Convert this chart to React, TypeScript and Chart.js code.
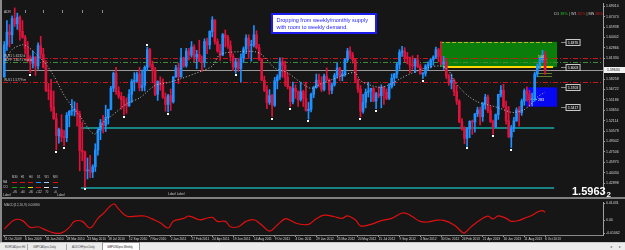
import React, { useEffect, useRef } from "react";
import { Chart, registerables } from "chart.js";

Chart.register(...registerables);

// ---------------- DATA ----------------
// GBPUSD weekly candles, week index 0 = 11 Oct 2009
const opens = [
  1.5860,1.6330,1.6520,1.6480,1.6720,1.6640,1.6740,1.6530,1.6440,1.6280,
  1.6140,1.6060,1.6150,1.6020,1.6320,1.6190,1.6000,1.5660,1.5650,1.5410,
  1.5240,1.4990,1.5080,1.4970,1.4960,1.5290,1.5350,1.5360,1.5370,1.5310,
  1.4770,1.4750,1.4470,1.4480,1.4450,1.4530,1.4780,1.5070,1.5180,1.5140,
  1.5260,1.5380,1.5690,1.5910,1.5640,1.5570,1.5520,1.5450,1.5430,1.5600,
  1.5790,1.5800,1.5900,1.5700,1.5730,1.6000,1.6260,1.6040,1.5960,1.5600,
  1.5790,1.5740,1.5560,1.5450,1.5580,1.5490,1.5860,1.5990,1.5860,1.6140,
  1.6020,1.6240,1.6180,1.6300,1.6150,1.6190,1.6090,1.6070,1.6380,1.6330,
  1.6530,1.6700,1.6380,1.6240,1.6180,1.6480,1.6440,1.6320,1.6160,1.6000,
  1.6080,1.5980,1.6140,1.6270,1.6430,1.6320,1.6330,1.6480,1.6290,1.6120,
  1.5810,1.5660,1.5480,1.5580,1.5440,1.5800,1.5860,1.6080,1.6030,1.5850,
  1.5710,1.5490,1.5690,1.5640,1.5520,1.5640,1.5540,1.5360,1.5380,1.5600,
  1.5700,1.5810,1.5760,1.5670,1.5870,1.5810,1.5660,1.5740,1.5880,1.5990,
  1.5870,1.5900,1.6110,1.6240,1.6180,1.6110,1.5810,1.5680,1.5350,1.5480,
  1.5630,1.5650,1.5690,1.5500,1.5610,1.5580,1.5700,1.5630,1.5540,1.5710,
  1.5840,1.5900,1.6040,1.6220,1.6240,1.6150,1.6140,1.6030,1.6020,1.6110,
  1.6010,1.5900,1.5910,1.6020,1.6030,1.6110,1.6150,1.6260,1.6160,1.6050,
  1.6080,1.5870,1.5770,1.5810,1.5640,1.5500,1.5200,1.5090,1.4950,1.5090,
  1.5200,1.5190,1.5310,1.5370,1.5270,1.5460,1.5560,1.5360,1.5200,1.5120,
  1.5300,1.5600,1.5660,1.5420,1.5210,1.4970,1.5100,1.5210,1.5370,1.5330,
  1.5500,1.5650,1.5600,1.5520,1.5540,1.5900,1.6020,1.6130,1.6180,
];
const highs = [
  1.6380,1.6690,1.6630,1.6760,1.6877,1.6800,1.6760,1.6690,1.6470,1.6380,
  1.6170,1.6240,1.6160,1.6360,1.6457,1.6280,1.6100,1.5760,1.5820,1.5650,
  1.5320,1.5100,1.5300,1.5070,1.5330,1.5360,1.5523,1.5490,1.5470,1.5350,
  1.5190,1.4760,1.4660,1.4700,1.4560,1.4870,1.5100,1.5230,1.5290,1.5440,
  1.5380,1.5720,1.5930,1.5998,1.5710,1.5630,1.5570,1.5550,1.5670,1.5820,
  1.5920,1.5930,1.6000,1.5960,1.6020,1.6298,1.6280,1.6090,1.6000,1.5800,
  1.5860,1.5830,1.5620,1.5600,1.5680,1.5860,1.6030,1.6060,1.6280,1.6150,
  1.6280,1.6280,1.6380,1.6330,1.6250,1.6400,1.6170,1.6420,1.6430,1.6540,
  1.6747,1.6700,1.6420,1.6340,1.6500,1.6550,1.6470,1.6390,1.6200,1.6130,
  1.6130,1.6200,1.6300,1.6480,1.6480,1.6400,1.6617,1.6540,1.6340,1.6130,
  1.5870,1.5730,1.5670,1.5600,1.5850,1.5890,1.6140,1.6140,1.6090,1.5910,
  1.5720,1.5780,1.5740,1.5650,1.5780,1.5660,1.5780,1.5480,1.5620,1.5720,
  1.5900,1.5900,1.5860,1.5900,1.5990,1.5830,1.5770,1.5910,1.6060,1.6000,
  1.5940,1.6130,1.6280,1.6301,1.6220,1.6130,1.5830,1.5730,1.5600,1.5680,
  1.5780,1.5690,1.5700,1.5630,1.5710,1.5740,1.5720,1.5680,1.5760,1.5900,
  1.5910,1.6070,1.6260,1.6309,1.6290,1.6220,1.6150,1.6170,1.6130,1.6180,
  1.6050,1.5920,1.6040,1.6080,1.6130,1.6170,1.6300,1.6280,1.6381,1.6160,
  1.6130,1.5900,1.5900,1.5830,1.5730,1.5520,1.5240,1.5120,1.5110,1.5210,
  1.5220,1.5320,1.5410,1.5410,1.5480,1.5600,1.5590,1.5420,1.5220,1.5310,
  1.5600,1.5730,1.5750,1.5500,1.5420,1.5140,1.5260,1.5400,1.5420,1.5530,
  1.5680,1.5710,1.5660,1.5620,1.5930,1.6050,1.6140,1.6250,1.6230,
];
const lows = [
  1.5850,1.6250,1.6300,1.6350,1.6600,1.6560,1.6400,1.6430,1.6200,1.6080,
  1.5920,1.5990,1.5880,1.5970,1.6140,1.5990,1.5640,1.5520,1.5350,1.5230,
  1.4781,1.4880,1.4900,1.4840,1.4900,1.5120,1.5290,1.5280,1.5130,1.4470,
  1.4620,1.4229,1.4350,1.4370,1.4370,1.4460,1.4700,1.4930,1.5030,1.5050,
  1.5160,1.5370,1.5640,1.5600,1.5540,1.5380,1.5295,1.5320,1.5420,1.5480,
  1.5650,1.5780,1.5650,1.5650,1.5650,1.5950,1.6000,1.5770,1.5580,1.5510,
  1.5660,1.5540,1.5350,1.5341,1.5360,1.5470,1.5850,1.5760,1.5850,1.6000,
  1.6000,1.6110,1.6150,1.6080,1.5980,1.6080,1.5940,1.6000,1.6200,1.6270,
  1.6450,1.6340,1.6220,1.6100,1.6170,1.6300,1.6280,1.6090,1.5950,1.5912,
  1.5940,1.5780,1.6070,1.6200,1.6130,1.6090,1.6300,1.6270,1.6100,1.5800,
  1.5640,1.5390,1.5450,1.5272,1.5420,1.5680,1.5820,1.5850,1.5720,1.5680,
  1.5420,1.5460,1.5540,1.5420,1.5500,1.5420,1.5350,1.5233,1.5340,1.5550,
  1.5690,1.5710,1.5640,1.5650,1.5800,1.5600,1.5610,1.5720,1.5840,1.5800,
  1.5800,1.5870,1.6080,1.6130,1.6060,1.5780,1.5630,1.5268,1.5320,1.5400,
  1.5560,1.5490,1.5490,1.5390,1.5550,1.5400,1.5450,1.5520,1.5520,1.5690,
  1.5730,1.5840,1.5970,1.6160,1.6080,1.6050,1.5920,1.5970,1.5920,1.5990,
  1.5900,1.5830,1.5870,1.5960,1.5990,1.6030,1.6130,1.6080,1.6030,1.5970,
  1.5830,1.5730,1.5680,1.5580,1.5450,1.5180,1.5070,1.4870,1.4832,1.4960,
  1.5010,1.5040,1.5270,1.5150,1.5200,1.5380,1.5330,1.5180,1.5010,1.5110,
  1.5230,1.5560,1.5400,1.5160,1.4960,1.4814,1.5050,1.5200,1.5130,1.5290,
  1.5440,1.5500,1.5420,1.5430,1.5500,1.5860,1.5980,1.6070,1.5893,
];
const closes = [
  1.6330,1.6520,1.6480,1.6720,1.6640,1.6740,1.6530,1.6440,1.6280,1.6140,
  1.6060,1.6150,1.6020,1.6320,1.6190,1.6000,1.5660,1.5650,1.5410,1.5240,
  1.4990,1.5080,1.4970,1.4960,1.5290,1.5350,1.5360,1.5370,1.5310,1.4770,
  1.4750,1.4470,1.4480,1.4450,1.4530,1.4780,1.5070,1.5180,1.5140,1.5260,
  1.5380,1.5690,1.5910,1.5640,1.5570,1.5520,1.5450,1.5430,1.5600,1.5790,
  1.5800,1.5900,1.5700,1.5730,1.6000,1.6260,1.6040,1.5960,1.5600,1.5790,
  1.5740,1.5560,1.5450,1.5580,1.5490,1.5860,1.5990,1.5860,1.6140,1.6020,
  1.6240,1.6180,1.6300,1.6150,1.6190,1.6090,1.6070,1.6380,1.6330,1.6530,
  1.6700,1.6380,1.6240,1.6180,1.6480,1.6440,1.6320,1.6160,1.6000,1.6080,
  1.5980,1.6140,1.6270,1.6430,1.6320,1.6330,1.6480,1.6290,1.6120,1.5810,
  1.5660,1.5480,1.5580,1.5440,1.5800,1.5860,1.6080,1.6030,1.5850,1.5710,
  1.5490,1.5690,1.5640,1.5520,1.5640,1.5540,1.5360,1.5380,1.5600,1.5700,
  1.5810,1.5760,1.5670,1.5870,1.5810,1.5660,1.5740,1.5880,1.5990,1.5870,
  1.5900,1.6110,1.6240,1.6180,1.6110,1.5810,1.5680,1.5350,1.5480,1.5630,
  1.5650,1.5690,1.5500,1.5610,1.5580,1.5700,1.5630,1.5540,1.5710,1.5840,
  1.5900,1.6040,1.6220,1.6240,1.6150,1.6140,1.6030,1.6020,1.6110,1.6010,
  1.5900,1.5910,1.6020,1.6030,1.6110,1.6150,1.6260,1.6160,1.6050,1.6080,
  1.5870,1.5770,1.5810,1.5640,1.5500,1.5200,1.5090,1.4950,1.5090,1.5200,
  1.5190,1.5310,1.5370,1.5270,1.5460,1.5560,1.5360,1.5200,1.5120,1.5300,
  1.5600,1.5660,1.5420,1.5210,1.4970,1.5100,1.5210,1.5370,1.5330,1.5500,
  1.5650,1.5600,1.5520,1.5540,1.5900,1.6020,1.6130,1.6180,1.5963,
];

// date axis labels (every 8 weeks)
const dateTickIndex = [0,8,16,24,32,40,48,56,64,72,80,88,96,104,112,120,128,136,144,152,160,168,176,184,192,200,208];
const dateTickLabels = [
  "11 Oct 2009","6 Dec 2009","31 Jan 2010","28 Mar 2010","23 May 2010","18 Jul 2010","12 Sep 2010",
  "7 Nov 2010","2 Jan 2011","27 Feb 2011","24 Apr 2011","19 Jun 2011","14 Aug 2011","9 Oct 2011",
  "4 Dec 2011","29 Jan 2012","25 Mar 2012","20 May 2012","15 Jul 2012","9 Sep 2012","4 Nov 2012",
  "30 Dec 2012","24 Feb 2013","21 Apr 2013","16 Jun 2013","11 Aug 2013","6 Oct 2013",
];

// price axis ticks
const priceTicks = [1.69010,1.67474,1.65938,1.64402,1.62866,1.61330,1.58258,1.56722,1.55186,1.53650,1.52114,1.50578,1.49042,1.47506,1.45970,1.44434,1.42898];

// moving average
const maIndex = [0,3,7,9,12,16,19,21,23,25,27,30,33,35,39,41,47,52,58,63,68,76,80,83,91,96,99,104,109,114,118,122,127,132,135,137,141,145,149,153,157,162,168,171,173,176,179,182,186,190,194,196,200,203,205,208];
const maValues = [1.6061,1.6261,1.6333,1.6304,1.6204,1.6046,1.5875,1.5732,1.5588,1.5474,1.5374,1.5231,1.5059,1.5016,1.5231,1.5274,1.5460,1.5546,1.5732,1.5775,1.5832,1.5946,1.6018,1.6189,1.6232,1.6232,1.6189,1.5989,1.5918,1.5775,1.5689,1.5760,1.5832,1.5903,1.5918,1.5803,1.5732,1.5703,1.5760,1.5846,1.5918,1.5989,1.6018,1.5946,1.5803,1.5660,1.5560,1.5489,1.5445,1.5402,1.5345,1.5331,1.5374,1.5474,1.5560,1.5631];

// MACD main line
const macdIndex = [0,4,7,10,13,15,19,22,25,27,30,33,36,38,42,44,47,51,54,57,60,63,65,69,71,75,77,80,82,85,87,90,93,96,99,102,105,108,110,113,117,120,123,127,130,132,135,137,141,145,149,153,155,157,160,163,166,169,173,176,177,180,184,186,188,190,193,195,198,200,203,205,207,208];
const macdValues = [-0.0070,0.0005,-0.0002,-0.0058,-0.0053,-0.0070,-0.0104,-0.0104,-0.0058,-0.0008,-0.0008,-0.0063,0.0017,0.0055,0.0136,0.0093,0.0036,0.0036,0.0036,0.0010,-0.0020,-0.0063,-0.0008,0.0017,0.0036,0.0005,0.0013,0.0025,-0.0008,-0.0008,-0.0053,-0.0053,-0.0008,0.0005,-0.0038,-0.0089,-0.0038,0.0013,0.0000,-0.0028,-0.0033,0.0013,0.0043,0.0030,0.0017,0.0038,0.0005,-0.0045,-0.0033,-0.0002,0.0017,0.0061,0.0055,0.0030,-0.0008,-0.0013,0.0000,0.0000,-0.0038,-0.0096,-0.0104,-0.0045,0.0017,0.0036,0.0013,0.0038,0.0017,-0.0008,0.0000,0.0017,0.0043,0.0068,0.0081,0.0068];
const macdTicks = [0.01431, 0, -0.01062];

// swing points marked with white dots
const fractalLowIndex = [10,20,23,31,46,63,89,103,110,117,137,143,161,178,188,195];
const fractalHighIndex = [55];

// levels and zones
const bidPrice = 1.5963;
const weeklyLevels = [1.6132, 1.6071, 1.5779];
const weeklyLevelNames = ["W-R1 1.6132 d", "W-PP 1.6071 mid w", "W-S1 1.5779 m"];
const tealLevels = [1.5102, 1.4215];
const tealRange = [29.5, 211.5];
const supplyZone = { from: 167.6, to: 212.6, low: 1.6003, high: 1.6376 };
const demandZone = { from: 200.7, to: 212.6, low: 1.5417, high: 1.5703 };
const markPrices = [1.6118, 1.5922, 1.5875, 1.5531];
const markFrom = [206.3, 205.3, 205.3, 201.4];
const markTo = [208.6, 210.7, 210.7, 204.9];
const zoneSizeLabels = ["504", "283"];

const X_MIN = -0.5;
const X_MAX = 230.27;
const Y_MIN = 1.4129;
const Y_MAX = 1.6948;

const FONT = '"Liberation Sans", Arial, sans-serif';
const BULL = "#1e90ff";
const BEAR = "#dc143c";

const mainOverlay = {
  id: "mainOverlay",
  beforeDatasetsDraw(chart: any) {
    const { ctx, chartArea: a } = chart;
    const xs = chart.scales.x;
    const ys = chart.scales.y;
    const X = (v: number) => xs.getPixelForValue(v);
    const Y = (v: number) => ys.getPixelForValue(v);
    ctx.save();
    ctx.beginPath();
    ctx.rect(a.left, a.top, a.right - a.left, a.bottom - a.top);
    ctx.clip();
    const zone = (z: any, color: string) => {
      ctx.fillStyle = color;
      ctx.fillRect(X(z.from), Y(z.high), X(z.to) - X(z.from), Y(z.low) - Y(z.high));
    };
    zone(supplyZone, "#0a7d0a");
    zone(demandZone, "#0707f2");
    const hl = (p: number, x0: number, x1: number, color: string, w: number, dash: number[]) => {
      ctx.beginPath();
      ctx.setLineDash(dash);
      ctx.strokeStyle = color;
      ctx.lineWidth = w;
      const yy = Math.round(Y(p)) + (w === 1 ? 0.5 : 0);
      ctx.moveTo(x0, yy);
      ctx.lineTo(x1, yy);
      ctx.stroke();
    };
    hl(supplyZone.high, X(supplyZone.from), X(supplyZone.to) - 4, "#b4b82a", 1, [4, 2]);
    hl(supplyZone.low, X(supplyZone.from) + 3, X(supplyZone.to) - 4, "#ffd700", 2, []);
    hl(weeklyLevels[0], a.left, a.right, "#c8161c", 1, [5, 2, 1, 2]);
    hl(weeklyLevels[1], a.left, a.right, "#3d8a3d", 1, [5, 2, 1, 2]);
    hl(weeklyLevels[2], a.left, a.right, "#c8161c", 1, [5, 2, 1, 2]);
    tealLevels.forEach((p) => hl(p, X(tealRange[0]), X(tealRange[1]), "#18a8a8", 1.5, []));
    hl(bidPrice, a.left, a.right, "#9a9a9a", 1, []);
    const markColors = ["#e0d400", "#5f7f2a", "#5f7f2a", "#30c0a0"];
    markPrices.forEach((p, i) => hl(p, X(markFrom[i]), X(markTo[i]), markColors[i], 1, []));
    ctx.restore();
  },
  afterDatasetsDraw(chart: any) {
    const { ctx, chartArea: a } = chart;
    const xs = chart.scales.x;
    const ys = chart.scales.y;
    const X = (v: number) => xs.getPixelForValue(v);
    const Y = (v: number) => ys.getPixelForValue(v);
    ctx.save();
    ctx.fillStyle = "#ffffff";
    fractalLowIndex.forEach((i) => ctx.fillRect(Math.round(X(i)) - 1, Math.round(Y(lows[i])) + 1, 2, 2));
    fractalHighIndex.forEach((i) => ctx.fillRect(Math.round(X(i)) - 1, Math.round(Y(highs[i])) - 3, 2, 2));
    // level names on the left
    ctx.font = `3.2px ${FONT}`;
    ctx.textBaseline = "alphabetic";
    ctx.textAlign = "left";
    ctx.fillStyle = "#c8c8c8";
    weeklyLevels.forEach((p, i) => ctx.fillText(weeklyLevelNames[i], a.left + 1, Y(p) - 1));
    // zone size labels
    ctx.font = `3.5px ${FONT}`;
    ctx.fillStyle = "#dfe58a";
    ctx.fillText(zoneSizeLabels[0], X(205.3), Y(1.6118) - 1);
    ctx.fillStyle = "#ffffff";
    ctx.fillText(zoneSizeLabels[1], X(205.3), Y(1.5531) + 1.5);
    // zone edge price boxes
    const boxes = [supplyZone.high, supplyZone.low, demandZone.high, demandZone.low];
    ctx.font = `3.3px ${FONT}`;
    boxes.forEach((p) => {
      const y = Math.round(Y(p)) + 0.5;
      const x0 = X(supplyZone.to);
      ctx.strokeStyle = "#8a8a8a";
      ctx.lineWidth = 1;
      ctx.setLineDash([]);
      ctx.beginPath();
      ctx.moveTo(x0 + 4, y);
      ctx.lineTo(x0 + 9, y);
      ctx.stroke();
      ctx.fillStyle = "#1c1c1c";
      ctx.fillRect(x0 + 9, y - 3, 14, 6);
      ctx.strokeStyle = "#c8c8c8";
      ctx.strokeRect(x0 + 9, y - 3, 14, 6);
      ctx.fillStyle = "#ffffff";
      ctx.textAlign = "center";
      ctx.textBaseline = "middle";
      ctx.fillText(p.toFixed(4), x0 + 16, y + 0.3);
      ctx.textAlign = "left";
      ctx.textBaseline = "alphabetic";
    });
    ctx.restore();
  },
  afterDraw(chart: any) {
    const { ctx, chartArea: a } = chart;
    const ys = chart.scales.y;
    const yb = Math.round(ys.getPixelForValue(bidPrice));
    ctx.save();
    ctx.fillStyle = "#f2f2f2";
    ctx.fillRect(a.right + 1, yb - 3, 22, 6);
    ctx.fillStyle = "#111111";
    ctx.font = `3.5px ${FONT}`;
    ctx.textBaseline = "middle";
    ctx.textAlign = "left";
    ctx.fillText(bidPrice.toFixed(5), a.right + 4, yb + 0.3);
    // big bid display
    ctx.fillStyle = "#ffffff";
    ctx.textBaseline = "alphabetic";
    ctx.font = `bold 11px ${FONT}`;
    const big = bidPrice.toFixed(4);
    ctx.fillText(big, 572, 195);
    ctx.font = `bold 8px ${FONT}`;
    ctx.fillText("2", 606.5, 196.5);
    ctx.restore();
  },
};

const macdOverlay = {
  id: "macdOverlay",
  afterDraw(chart: any) {
    const { ctx, chartArea: a } = chart;
    ctx.save();
    ctx.font = `3.3px ${FONT}`;
    ctx.fillStyle = "#bdbdbd";
    ctx.textBaseline = "top";
    ctx.fillText("MACD(12,26,9) " + macdValues[macdValues.length - 1].toFixed(5), a.left + 1, a.top + 1);
    ctx.restore();
  },
};

export default function App() {
  const mainRef = useRef<HTMLCanvasElement>(null);
  const macdRef = useRef<HTMLCanvasElement>(null);

  useEffect(() => {
    document.body.style.margin = "0";
    const idx = closes.map((_, i) => i);
    const colors = idx.map((i) => (closes[i] >= opens[i] ? BULL : BEAR));
    const wicks = idx.map((i) => ({ x: i, y: [lows[i], highs[i]] }));
    const bodies = idx.map((i) => ({ x: i, y: [opens[i], closes[i]] }));
    const ma = maIndex.map((x, i) => ({ x, y: maValues[i] }));

    const main = new Chart(mainRef.current as HTMLCanvasElement, {
      type: "bar",
      data: {
        datasets: [
          {
            type: "line",
            data: ma,
            borderColor: "#c4c4c4",
            borderWidth: 1,
            borderDash: [1, 2],
            pointRadius: 0,
            tension: 0.3,
            order: 0,
          } as any,
          {
            type: "bar",
            data: wicks,
            backgroundColor: colors,
            barThickness: 1,
            grouped: false,
            borderWidth: 0,
            order: 2,
          } as any,
          {
            type: "bar",
            data: bodies,
            backgroundColor: colors,
            barThickness: 2,
            minBarLength: 1,
            grouped: false,
            borderWidth: 0,
            order: 1,
          } as any,
        ],
      },
      options: {
        animation: false,
        responsive: false,
        maintainAspectRatio: false,
        events: [],
        layout: { padding: { left: 3, right: 0, top: 0, bottom: 0 }, autoPadding: false },
        plugins: { legend: { display: false }, tooltip: { enabled: false } },
        scales: {
          x: { type: "linear", min: X_MIN, max: X_MAX, display: false, offset: false },
          y: {
            type: "linear",
            position: "right",
            min: Y_MIN,
            max: Y_MAX,
            afterBuildTicks: (s: any) => {
              s.ticks = priceTicks.map((v) => ({ value: v }));
            },
            afterFit: (s: any) => {
              s.width = 22;
            },
            ticks: {
              autoSkip: false,
              padding: 1,
              color: "#d6d6d6",
              font: { size: 3.5, family: FONT },
              callback: (v: any) => Number(v).toFixed(5),
            },
            grid: { display: true, drawOnChartArea: false, drawTicks: true, tickLength: 2, color: "#9a9a9a" },
            border: { display: true, color: "#a0a0a0" },
          },
        },
      } as any,
      plugins: [mainOverlay],
    });

    const macd = new Chart(macdRef.current as HTMLCanvasElement, {
      type: "line",
      data: {
        datasets: [
          {
            data: macdIndex.map((x, i) => ({ x, y: macdValues[i] })),
            borderColor: "#e01010",
            borderWidth: 1.2,
            pointRadius: 0,
            tension: 0.4,
          },
        ],
      },
      options: {
        animation: false,
        responsive: false,
        maintainAspectRatio: false,
        events: [],
        layout: { padding: { left: 3, right: 0, top: 0, bottom: 0 }, autoPadding: false },
        plugins: { legend: { display: false }, tooltip: { enabled: false } },
        scales: {
          x: {
            type: "linear",
            min: X_MIN,
            max: X_MAX,
            offset: false,
            afterBuildTicks: (s: any) => {
              s.ticks = dateTickIndex.map((v) => ({ value: v }));
            },
            afterFit: (s: any) => {
              s.height = 7;
            },
            ticks: {
              autoSkip: false,
              maxRotation: 0,
              align: "start",
              padding: 0,
              color: "#d6d6d6",
              font: { size: 3.2, family: FONT },
              callback: (_v: any, i: number) => dateTickLabels[i],
            },
            grid: { display: true, drawOnChartArea: false, drawTicks: true, tickLength: 2, color: "#9a9a9a" },
            border: { display: true, color: "#8a8a8a" },
          },
          y: {
            type: "linear",
            position: "right",
            min: -0.01211,
            max: 0.01514,
            afterBuildTicks: (s: any) => {
              s.ticks = macdTicks.map((v) => ({ value: v }));
            },
            afterFit: (s: any) => {
              s.width = 22;
            },
            ticks: {
              autoSkip: false,
              padding: 1,
              color: "#d6d6d6",
              font: { size: 3.5, family: FONT },
              callback: (v: any) => (Number(v) === 0 ? "0.00" : Number(v).toFixed(5)),
            },
            grid: { display: true, drawOnChartArea: false, drawTicks: true, tickLength: 2, color: "#9a9a9a" },
            border: { display: true, color: "#a0a0a0" },
          },
        },
      } as any,
      plugins: [macdOverlay],
    });

    return () => {
      main.destroy();
      macd.destroy();
    };
  }, []);

  const tiny = (extra: any) => ({
    position: "absolute" as const,
    fontSize: 3.2,
    lineHeight: "4px",
    whiteSpace: "nowrap" as const,
    color: "#c8c8c8",
    ...extra,
  });

  const cols = [14.8, 22.5, 30.8, 38.7, 46.7, 55.3];
  const tfNames = ["M30", "H1", "H4", "D1", "W1", "MN"];
  const maCols = ["#e01010", "#e01010", "#e01010", "#2a8cff", "#9ccfff", "#e01010"];
  const cciCols = ["#12a012", "#12a012", "#e8e000", "#e01010", "#e8e8f0", "#6f9fd0"];
  const cciVals = ["+95", "+60", "+80", "+122", "70", "+6"];

  return (
    <div
      style={{
        position: "fixed",
        left: 0,
        top: 0,
        width: 625,
        height: 250,
        background: "#161616",
        overflow: "hidden",
        fontFamily: FONT,
      }}
    >
      <canvas ref={mainRef} width={625} height={197} style={{ position: "absolute", left: 0, top: 0 }} />
      <div style={{ position: "absolute", left: 0, top: 197, width: 625, height: 2, background: "#808080" }} />
      <canvas ref={macdRef} width={625} height={43} style={{ position: "absolute", left: 0, top: 199 }} />
      <div style={{ position: "absolute", left: 0, top: 0, width: 2, height: 242, background: "#8a8a8a" }} />

      {/* ADR row */}
      <div style={tiny({ left: 4, top: 10 })}>ADR</div>
      {[25, 43, 62, 82, 102].map((x) => (
        <div key={x} style={{ position: "absolute", left: x, top: 10, width: 1, height: 3, background: "#8c8c8c" }} />
      ))}

      {/* annotation */}
      <div
        style={{
          position: "absolute",
          left: 270.5,
          top: 13,
          width: 106,
          height: 21,
          boxSizing: "border-box",
          border: "2px solid #1c1cf0",
          background: "#ffffff",
          color: "#2424ff",
          fontSize: 5.5,
          lineHeight: "6.8px",
          padding: "2px 0 0 4px",
          whiteSpace: "nowrap",
        }}
      >
        <div>Dropping from weekly/monthly supply</div>
        <div>with room to weekly demand.</div>
      </div>

      {/* timeframe strength */}
      <div style={tiny({ right: 22, top: 11.5, fontSize: 3.8 })}>
        <span>D1 </span>
        <span style={{ color: "#1fc01f" }}>38%</span>
        <span> | W1 </span>
        <span style={{ color: "#d41a1a" }}>62%</span>
        <span> | MN </span>
        <span style={{ color: "#d41a1a" }}>66%</span>
      </div>

      {/* indicator table */}
      {tfNames.map((t, i) => (
        <div key={t} style={tiny({ left: cols[i] - 4, top: 175, width: 8, textAlign: "center", fontSize: 2.8 })}>
          {t}
        </div>
      ))}
      <div style={tiny({ left: 3, top: 180, fontSize: 2.8 })}>MA</div>
      <div style={tiny({ left: 3, top: 185, fontSize: 2.8 })}>CCI</div>
      {maCols.map((c, i) => (
        <div key={"ma" + i} style={{ position: "absolute", left: cols[i] - 2.5, top: 181.5, width: 5, height: 1.5, background: c }} />
      ))}
      {cciCols.map((c, i) => (
        <div key={"cc" + i} style={{ position: "absolute", left: cols[i] - 2.5, top: 186.5, width: 5, height: 1.5, background: c }} />
      ))}
      {cciVals.map((t, i) => (
        <div key={"v" + i} style={tiny({ left: cols[i] - 4, top: 190, width: 8, textAlign: "center", fontSize: 2.8 })}>
          {t}
        </div>
      ))}
      <div style={tiny({ left: 3, top: 193 })}>Label</div>
      <div style={tiny({ left: 57, top: 193 })}>Label</div>
      <div style={tiny({ left: 168, top: 192 })}>Label Label</div>

      {/* tab bar */}
      <div
        style={{
          position: "absolute",
          left: 0,
          top: 242,
          width: 625,
          height: 8,
          background: "#ececec",
          borderTop: "1px solid #c8c8c8",
          boxSizing: "border-box",
        }}
      >
        <div style={tiny({ left: 5, top: 1.5, color: "#444", fontSize: 2.8 })}>EURCADpro,H4</div>
        <div style={{ position: "absolute", left: 27, top: 1, width: 1, height: 6, background: "#a8a8a8" }} />
        <div style={tiny({ left: 33, top: 1.5, color: "#444", fontSize: 2.8 })}>GBPCADpro,Daily</div>
        <div style={{ position: "absolute", left: 66, top: 1, width: 1, height: 6, background: "#a8a8a8" }} />
        <div style={tiny({ left: 72, top: 1.5, color: "#444", fontSize: 2.8 })}>AUDCHFpro,Daily</div>
        <div
          style={{
            position: "absolute",
            left: 102,
            top: -1,
            width: 38,
            height: 8,
            background: "#ffffff",
            border: "1px solid #9a9a9a",
            borderBottom: "none",
            boxSizing: "border-box",
          }}
        >
          <div style={tiny({ left: 4, top: 2, color: "#222", fontSize: 2.8 })}>GBPUSDpro,Weekly</div>
        </div>
        <div style={tiny({ left: 610, top: 1.5, color: "#777", fontSize: 3.5 })}>◂</div>
        <div style={tiny({ left: 619, top: 1.5, color: "#777", fontSize: 3.5 })}>▸</div>
      </div>
    </div>
  );
}
